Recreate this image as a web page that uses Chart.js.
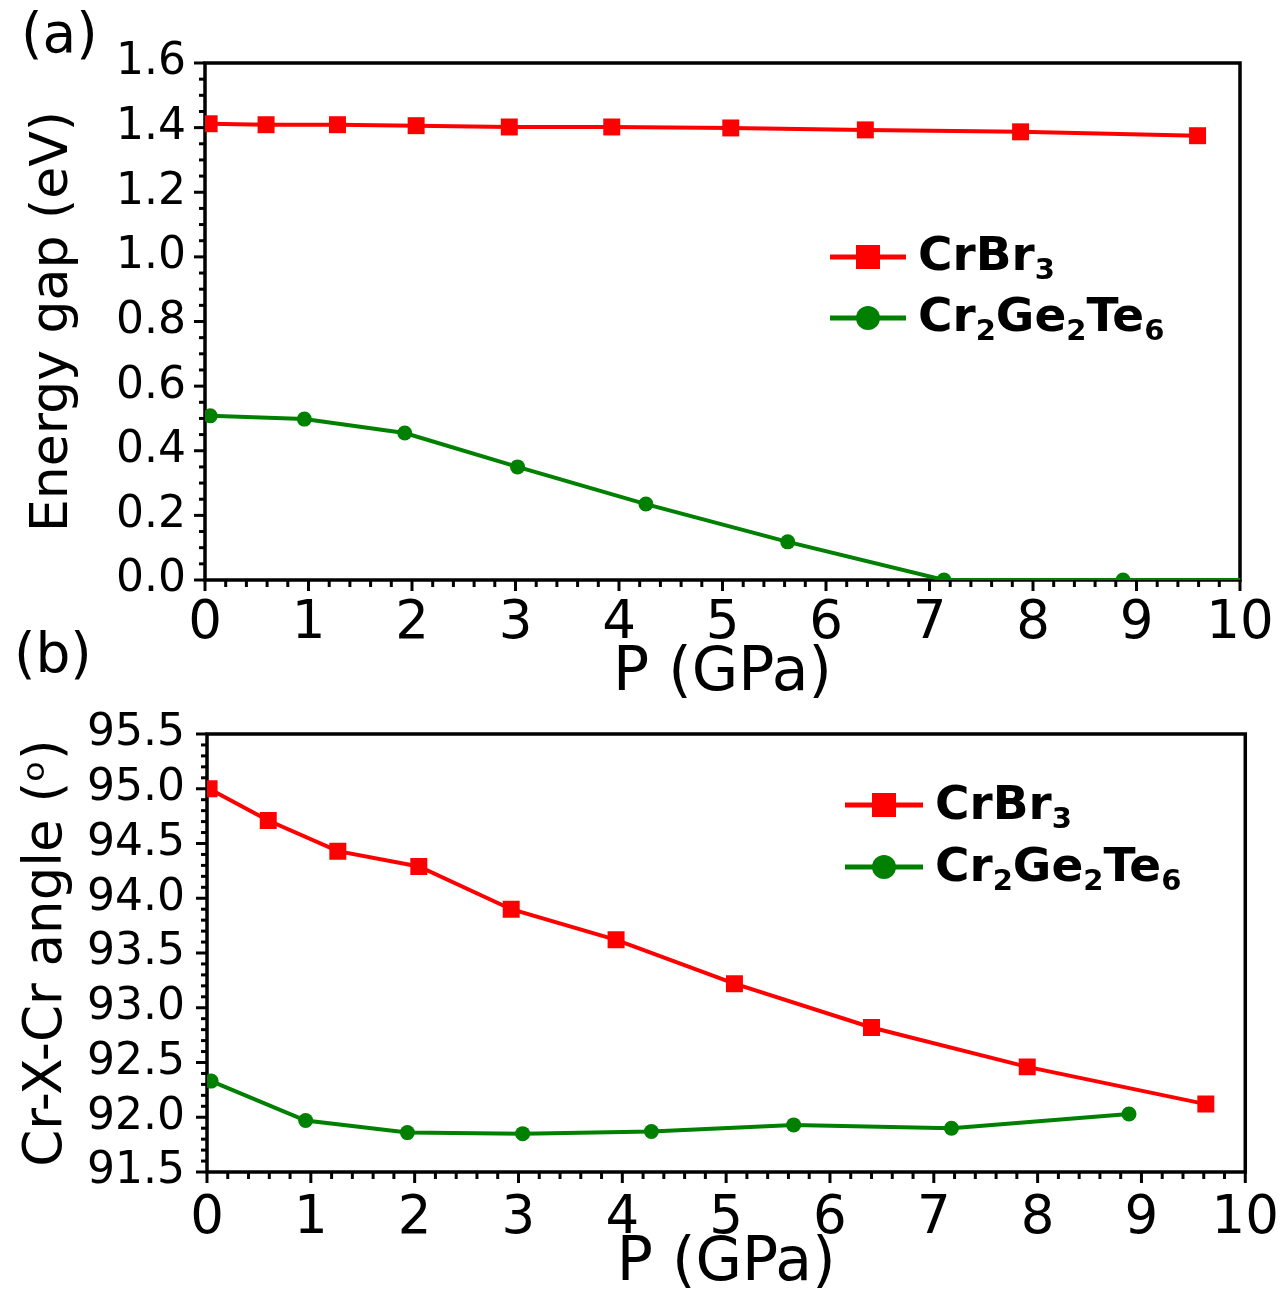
<!DOCTYPE html>
<html><head><meta charset="utf-8">
<script src="https://cdn.jsdelivr.net/npm/chart.js@4.4.0/dist/chart.umd.min.js"></script>
<style>
html,body{margin:0;padding:0;background:#fff;}
#wrap{position:relative;width:1286px;height:1304px;overflow:hidden;background:#fff;}
#ca{position:absolute;left:0;top:0;}
#cb{position:absolute;left:0;top:600px;}
</style></head><body>
<div id="wrap"><canvas id="ca" width="1286" height="720"></canvas><canvas id="cb" width="1286" height="704"></canvas></div>
<script>
const FONT = 'DejaVu Sans';
// ---- panel (a): energy gap ----
const gapCrBr3P = [0.04, 0.59, 1.28, 2.04, 2.94, 3.93, 5.08, 6.38, 7.88, 9.59];
const gapCrBr3  = [1.412, 1.409, 1.409, 1.406, 1.402, 1.402, 1.399, 1.393, 1.387, 1.375];
const gapCGTP   = [0.05, 0.96, 1.93, 3.02, 4.26, 5.63, 7.14, 8.87, 10.6];
const gapCGT    = [0.508, 0.498, 0.455, 0.350, 0.235, 0.118, 0.0, 0.0, 0.0];
// ---- panel (b): Cr-X-Cr angle ----
const angCrBr3P = [0.02, 0.59, 1.26, 2.04, 2.93, 3.94, 5.08, 6.40, 7.90, 9.62];
const angCrBr3  = [95.00, 94.71, 94.43, 94.29, 93.90, 93.62, 93.22, 92.82, 92.46, 92.12];
const angCGTP   = [0.04, 0.95, 1.93, 3.04, 4.28, 5.65, 7.17, 8.88];
const angCGT    = [92.33, 91.97, 91.86, 91.85, 91.87, 91.93, 91.90, 92.03];
// ---- axes / labels ----
const xRange = [0, 10];
const gapRange = [0, 1.6];
const angRange = [91.5, 95.5];
const xTitle = 'P (GPa)';
const gapTitle = 'Energy gap (eV)';
const angTitle = 'Cr-X-Cr angle (\u1D52)';
const legendCrBr3 = [['Cr',0],['Br',0],['3',1]];
const legendCGT = [['Cr',0],['2',1],['Ge',0],['2',1],['Te',0],['6',1]];

const RED = '#ff0000', GREEN = '#008000';

function pts(xs, ys){ return xs.map((x,i)=>({x:x, y:ys[i]})); }

const frameTicks = {
  id:'frameTicks',
  beforeDatasetsDraw(chart, args, o){
    const {ctx, chartArea:{left,right,top,bottom}} = chart;
    const xs = chart.scales.x, ys = chart.scales.y;
    ctx.save();
    ctx.strokeStyle = '#000'; ctx.lineWidth = 3; ctx.lineCap = 'butt';
    const isMajor = (v, m) => Math.abs(v/m - Math.round(v/m)) < 1e-6;
    let n = Math.round((xs.max - xs.min)/o.xMinor);
    for (let i=0;i<=n;i++){
      const v = xs.min + i*o.xMinor;
      const px = xs.getPixelForValue(v);
      const len = isMajor(v, o.xMajor) ? o.xMajLen : o.xMinLen;
      ctx.beginPath(); ctx.moveTo(px, bottom); ctx.lineTo(px, bottom + len); ctx.stroke();
    }
    n = Math.round((ys.max - ys.min)/o.yMinor);
    for (let i=0;i<=n;i++){
      const v = ys.min + i*o.yMinor;
      const py = ys.getPixelForValue(v);
      const len = isMajor(v, o.yMajor) ? o.yMajLen : o.yMinLen;
      ctx.beginPath(); ctx.moveTo(left, py); ctx.lineTo(left - len, py); ctx.stroke();
    }
    ctx.lineWidth = 3.5;
    ctx.strokeRect(left, top, right-left, bottom-top);
    ctx.restore();
  }
};

const legendPlot = {
  id:'legendPlot',
  afterDraw(chart, args, o){
    const ctx = chart.ctx;
    ctx.save();
    o.rows.forEach((r, k) => {
      const y = o.y0 + k*o.dy;
      ctx.strokeStyle = r.color; ctx.fillStyle = r.color; ctx.lineWidth = 5;
      ctx.beginPath(); ctx.moveTo(o.x1, y); ctx.lineTo(o.x2, y); ctx.stroke();
      const mx = (o.x1 + o.x2)/2;
      if (r.style === 'rect') { ctx.fillRect(mx - 12, y - 12, 24, 24); }
      else { ctx.beginPath(); ctx.arc(mx, y, 12, 0, Math.PI*2); ctx.fill(); }
      let x = o.tx; const base = y + o.base;
      ctx.fillStyle = '#000'; ctx.textBaseline = 'alphabetic'; ctx.textAlign = 'left';
      r.parts.forEach(([t, sub]) => {
        ctx.font = sub ? 'bold 29px "' + FONT + '"' : 'bold 47px "' + FONT + '"';
        ctx.fillText(t, x, sub ? base + 9 : base);
        x += ctx.measureText(t).width;
      });
    });
    ctx.restore();
  }
};

const panelLabel = {
  id:'panelLabel',
  afterDraw(chart, args, o){
    const ctx = chart.ctx;
    ctx.save();
    ctx.font = '55px "' + FONT + '"'; ctx.fillStyle = '#000';
    ctx.textBaseline = 'alphabetic'; ctx.textAlign = 'left';
    ctx.fillText(o.text, o.x, o.y);
    ctx.restore();
  }
};

function makeChart(id, cfg){
  return new Chart(document.getElementById(id), {
    type:'line',
    data:{ datasets:[
      { label:'CrBr3', data: pts(cfg.rX, cfg.rY), borderColor:RED, backgroundColor:RED,
        borderWidth:4, pointStyle:'rect', pointRadius:12, pointBorderWidth:0, tension:0 },
      { label:'Cr2Ge2Te6', data: pts(cfg.gX, cfg.gY), borderColor:GREEN, backgroundColor:GREEN,
        borderWidth:4, pointStyle:'circle', pointRadius: cfg.gX.map(v => v > xRange[1] ? 0 : 7.5), pointBorderWidth:0, tension:0 }
    ]},
    options:{
      responsive:false, animation:false, devicePixelRatio:1,
      layout:{ padding:{ left:0, top:cfg.top, right:cfg.right, bottom:0 } },
      plugins:{
        legend:{display:false}, tooltip:{enabled:false},
        frameTicks: cfg.ticks, legendPlot: cfg.legend, panelLabel: cfg.panel
      },
      scales:{
        x:{ type:'linear', min:xRange[0], max:xRange[1],
            grid:{display:false}, border:{display:false},
            ticks:{ stepSize:1, autoSkip:false, maxRotation:0, padding:cfg.xTickPad, color:'#000',
                    font:{family:FONT, size:53}, callback:v=>String(v) },
            title:{ display:true, text:xTitle, color:'#000', font:{family:FONT, size:60},
                    padding:{top:0, bottom:cfg.xTitlePad} },
            afterFit: s => { s.height = cfg.xH; } },
        y:{ type:'linear', min:cfg.yMin, max:cfg.yMax,
            grid:{display:false}, border:{display:false},
            ticks:{ stepSize:cfg.yStep, autoSkip:false, padding:cfg.yTickPad, color:'#000',
                    font:{family:FONT, size:44}, callback:v=>Number(v).toFixed(1) },
            title:{ display:true, text:cfg.yTitle, color:'#000', font:{family:FONT, size:cfg.yTitleSize},
                    padding:{top:cfg.yTitlePad, bottom:0} },
            afterFit: s => { s.width = cfg.yW; } }
      }
    },
    plugins:[frameTicks, legendPlot, panelLabel]
  });
}

makeChart('ca', {
  rX:gapCrBr3P, rY:gapCrBr3, gX:gapCGTP, gY:gapCGT,
  top:63, right:46, xH:140, yW:205,
  yMin:gapRange[0], yMax:gapRange[1], yStep:0.2,
  xTickPad:4, xTitlePad:10, yTickPad:11, yTitle:gapTitle, yTitleSize:52, yTitlePad:22,
  ticks:{xMinor:0.2, xMajor:1, xMajLen:11, xMinLen:7, yMinor:0.05, yMajor:0.2, yMajLen:11, yMinLen:6},
  legend:{x1:830, x2:906, tx:918, y0:257, dy:61, base:13,
          rows:[{color:RED, style:'rect', parts:legendCrBr3},{color:GREEN, style:'circle', parts:legendCGT}]},
  panel:{text:'(a)', x:21, y:52}
});

makeChart('cb', {
  rX:angCrBr3P, rY:angCrBr3, gX:angCGTP, gY:angCGT,
  top:134, right:40, xH:132, yW:207,
  yMin:angRange[0], yMax:angRange[1], yStep:0.5,
  xTickPad:7, xTitlePad:4, yTickPad:14, yTitle:angTitle, yTitleSize:53, yTitlePad:15,
  ticks:{xMinor:0.2, xMajor:1, xMajLen:11, xMinLen:7, yMinor:0.1, yMajor:0.5, yMajLen:11, yMinLen:6},
  legend:{x1:845, x2:923, tx:935, y0:205, dy:62, base:14,
          rows:[{color:RED, style:'rect', parts:legendCrBr3},{color:GREEN, style:'circle', parts:legendCGT}]},
  panel:{text:'(b)', x:14, y:72}
});
</script>
</body></html>
